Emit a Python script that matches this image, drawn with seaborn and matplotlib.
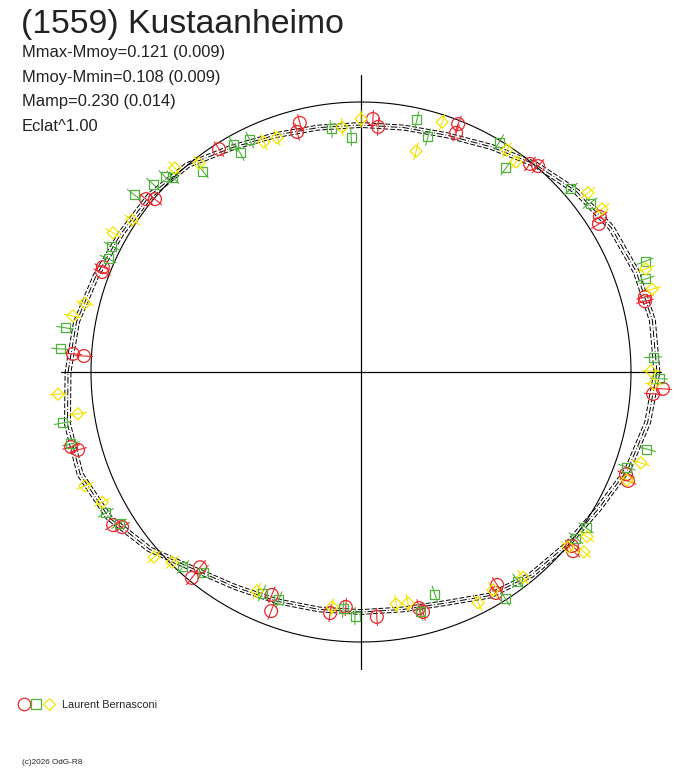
import numpy as np
import seaborn as sns
import matplotlib.pyplot as plt
from matplotlib.lines import Line2D
from matplotlib.legend_handler import HandlerTuple

# fitted lightcurve: relative flux every 10 degrees of rotational phase
fit_angle = np.arange(0, 360, 10)
fit_flux = [1.096, 1.096, 1.085, 1.070, 1.041, 1.004, 0.963, 0.933, 0.919,
            0.915, 0.919, 0.933, 0.959, 1.000, 1.019, 1.026, 1.044, 1.070,
            1.085, 1.104, 1.107, 1.078, 1.022, 0.956, 0.922, 0.904, 0.893,
            0.889, 0.893, 0.911, 0.956, 0.981, 0.996, 1.015, 1.052, 1.078]
fit_sigma = 0.010

# observations (phase angle in degrees, relative flux), one list per session
red_angle = [122.5, 103.8, 104.9, 87.3, 86.0, 68.6, 68.3, 50.9, 49.3, 33.0,
             31.9, 14.8, 14.0, 356.8, 355.7, 338.9, 337.8, 320.5, 319.8, 302.6,
             301.4, 283.8, 284.5, 273.7, 266.3, 262.7, 248.2, 249.4, 230.5, 230.6,
             211.7, 213.0, 194.5, 195.4, 176.4, 176.7, 157.9, 158.9, 140.0, 141.2]
red_flux = [0.979, 0.950, 0.920, 0.938, 0.910, 0.986, 0.953, 0.993, 1.006, 1.055,
            1.038, 1.088, 1.084, 1.120, 1.085, 1.052, 1.068, 1.013, 1.028, 0.936,
            0.959, 0.900, 0.918, 0.909, 0.872, 0.900, 0.889, 0.946, 0.937, 0.987,
            1.079, 1.055, 1.109, 1.087, 1.069, 1.028, 1.032, 1.028, 0.996, 1.022]

green_angle = [119.3, 118.9, 115.6, 97.0, 92.4, 77.5, 74.1, 59.0, 54.6, 41.1,
               36.4, 21.3, 18.1, 2.9, 358.7, 344.9, 340.3, 325.3, 322.3, 306.9,
               302.5, 288.4, 284.0, 268.6, 265.7, 245.9, 250.2, 227.6, 231.7, 208.9,
               212.1, 189.7, 193.9, 175.6, 171.5, 153.2, 155.9, 142.0, 137.9, 135.1,
               134.0, 128.2]
green_flux = [0.968, 0.927, 0.953, 0.907, 0.871, 0.956, 0.905, 0.993, 0.927, 1.032,
              1.054, 1.129, 1.110, 1.083, 1.104, 1.097, 1.046, 1.014, 1.006, 0.968,
              0.993, 0.867, 0.916, 0.904, 0.880, 0.897, 0.897, 0.978, 0.944, 1.079,
              1.058, 1.120, 1.107, 1.118, 1.108, 1.034, 1.026, 1.066, 1.038, 1.024,
              1.003, 0.947]

yellow_angle = [112.9, 109.7, 94.4, 90.0, 72.0, 76.0, 56.7, 53.6, 38.3, 34.1,
                19.9, 15.9, 0.2, 357.7, 342.0, 337.9, 323.9, 319.8, 321.1, 308.3,
                301.2, 296.9, 278.6, 281.5, 263.0, 244.6, 221.8, 225.2, 202.4, 206.7,
                184.2, 188.4, 166.0, 169.0, 146.4, 150.7, 132.4, 127.8]
yellow_flux = [0.925, 0.921, 0.910, 0.937, 0.973, 0.843, 0.984, 0.967, 1.071, 1.078,
               1.122, 1.121, 1.074, 1.086, 1.090, 1.063, 1.036, 1.004, 1.061, 0.968,
               0.944, 0.959, 0.869, 0.873, 0.877, 0.898, 1.028, 0.993, 1.106, 1.073,
               1.125, 1.060, 1.054, 1.087, 1.018, 1.053, 1.023, 0.979]
obs_error = 0.032

title = "(1559) Kustaanheimo"
info_lines = ["Mmax-Mmoy=0.121 (0.009)", "Mmoy-Mmin=0.108 (0.009)",
              "Mamp=0.230 (0.014)", "Eclat^1.00"]
observer = "Laurent Bernasconi"

RED, GREEN, YELLOW = "#e8282c", "#4fb23a", "#f4e400"

sns.set_theme(style="white")
plt.rcParams['font.family'] = ['Liberation Sans', 'DejaVu Sans']

fig = plt.figure(figsize=(6.88, 7.68), dpi=100)
rmax = 1.15
unit = 270.0
w = 2 * rmax * unit
ax = fig.add_axes([(361 - rmax * unit) / 688, (396 - rmax * unit) / 768,
                   w / 688, w / 768], projection='polar')
ax.set_rlim(0, rmax)
ax.grid(False)
ax.set_xticks([])
ax.set_yticks([])
ax.spines['polar'].set_visible(False)
ax.patch.set_alpha(0)

# cross through the centre
for t, reach in [(0, 1.11), (90, 1.10), (180, 1.11), (270, 1.10)]:
    ax.plot([0, np.deg2rad(t)], [0, reach], color='black', lw=0.9, zorder=1)

# mean-brightness circle
th = np.linspace(0, 2 * np.pi, 721)
ax.plot(th, np.ones_like(th), color='black', lw=0.8, zorder=1)

# fitted curve with its envelope
ft = np.deg2rad(np.append(fit_angle, 360))
ff = np.append(fit_flux, fit_flux[0])
sns.lineplot(x=ft, y=ff, ax=ax, sort=False, estimator=None, color='black',
             lw=0.7, linestyle=(0, (7, 2, 1, 2)), zorder=2)
for k in [1 + fit_sigma, 1 - fit_sigma]:
    sns.lineplot(x=ft, y=ff * k, ax=ax, sort=False, estimator=None, color='black',
                 lw=0.7, linestyle=(0, (5, 2)), zorder=2)

series = [(red_angle, red_flux, RED, 'o', 85),
          (green_angle, green_flux, GREEN, 's', 42),
          (yellow_angle, yellow_flux, YELLOW, 'D', 38)]
for ang, flux, col, mk, size in series:
    t = np.deg2rad(ang)
    f = np.asarray(flux)
    et = np.column_stack([t, t, np.full_like(t, np.nan)]).ravel()
    ef = np.column_stack([f - obs_error, f + obs_error, np.full_like(f, np.nan)]).ravel()
    ax.plot(et, ef, color=col, lw=0.8, zorder=3, clip_on=False)
    sns.scatterplot(x=t, y=f, ax=ax, marker=mk, s=size, facecolors='none',
                    edgecolor=col, linewidth=0.9, zorder=4, clip_on=False)
ax.set_rlim(0, rmax)

# texts
fig.text(21 / 688, 1 - 33 / 768, title, fontsize=24.3, color='#222222', va='baseline')
for i, line in enumerate(info_lines):
    fig.text(22 / 688, 1 - (57 + 24.7 * i) / 768, line, fontsize=11.9,
             color='#222222', va='baseline')

h_red = Line2D([], [], ls='none', marker='o', ms=9, mfc='none', mec=RED, mew=0.9)
h_green = Line2D([], [], ls='none', marker='s', ms=6.5, mfc='none', mec=GREEN, mew=0.9)
h_yellow = Line2D([], [], ls='none', marker='D', ms=6, mfc='none', mec=YELLOW, mew=0.9)
fig.legend([(h_red, h_green, h_yellow)], [observer],
           handler_map={tuple: HandlerTuple(ndivide=None, pad=0.25)},
           loc='center left', bbox_to_anchor=(19 / 688, 1 - 705 / 768),
           frameon=False, fontsize=7.8, handlelength=3.2, handletextpad=0.75,
           borderpad=0, borderaxespad=0)

fig.text(22 / 688, 1 - 763 / 768, "(c)2026 OdG-R8", fontsize=5.9,
         color='#222222', va='center')

fig.savefig("out.png", dpi=100)
